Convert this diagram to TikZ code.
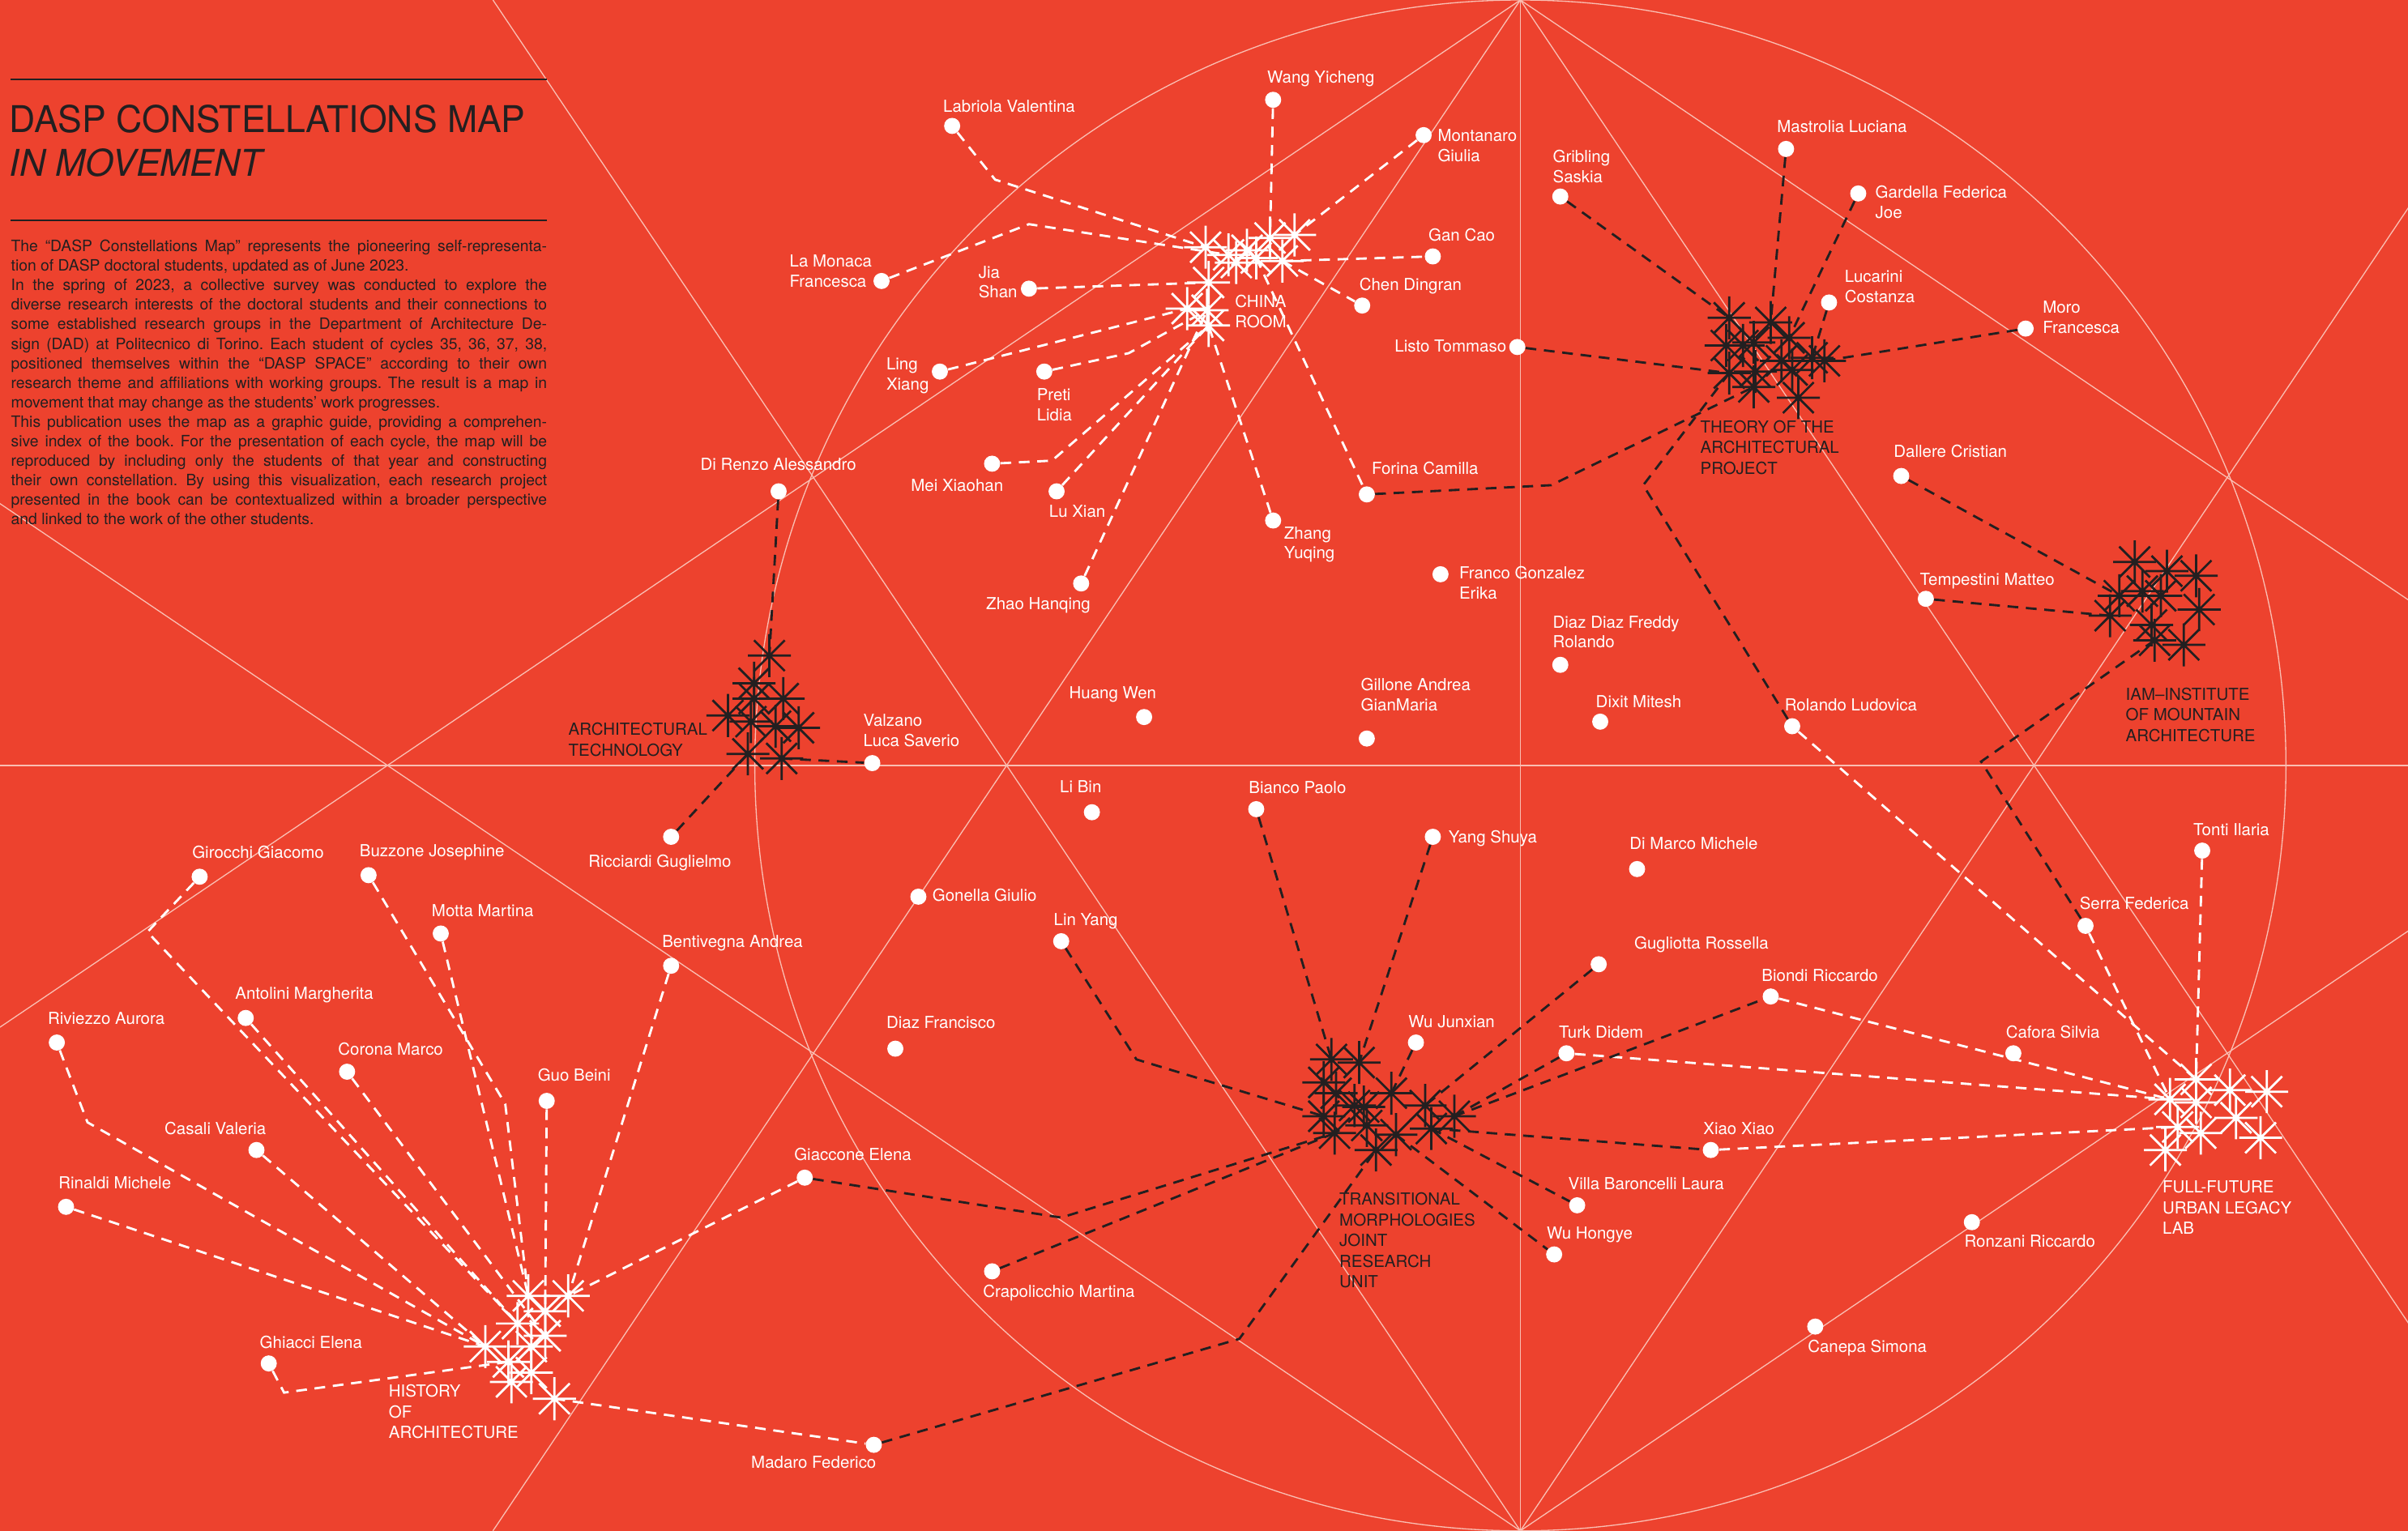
\documentclass[tikz,border=0pt]{standalone}
\usepackage{fontspec}
\setmainfont{TeX Gyre Heros}
\newfontfamily\titlefont[FakeStretch=0.98]{TeX Gyre Heros}
\definecolor{bg}{RGB}{237,66,46}
\definecolor{ink}{RGB}{35,31,32}
\definecolor{geo}{RGB}{250,190,178}
\newcommand\lns[1]{\vtop{\baselineskip=13pt\lineskiplimit=-20pt\lineskip=0pt #1}}
\newcommand\clns[1]{\vtop{\baselineskip=13.4pt\lineskiplimit=-20pt\lineskip=0pt #1}}
\tikzset{
 wstar/.pic={\draw[white,line width=1.45pt] (-14,0)--(14,0) (0,-14)--(0,14) (-10,-10)--(10,10) (-10,10)--(10,-10);},
 kstar/.pic={\draw[ink,line width=1.45pt] (-14,0)--(14,0) (0,-14)--(0,14) (-10,-10)--(10,10) (-10,10)--(10,-10);},
 pdot/.style={circle,fill=white,inner sep=0pt,minimum size=10.5pt},
 wdash/.style={white,line width=1.5pt,dash pattern=on 7pt off 5pt},
 kdash/.style={ink,line width=1.5pt,dash pattern=on 7pt off 5pt},
 geoline/.style={geo,line width=0.7pt},
 lbl/.style={anchor=base west,inner sep=0pt,text=white,font=\fontsize{10.8}{13}\selectfont},
 klbl/.style={lbl,text=ink},
}
\begin{document}
\frenchspacing
\begin{tikzpicture}[x=1pt,y=-1pt]
\useasboundingbox (0,0) rectangle (1568,997);
\fill[bg] (0,0) rectangle (1568,997);
% geometry
\begin{scope}
\clip (0,0) rectangle (1568,997);
\draw[geoline] (990,498.5) circle[radius=498.5pt];
\draw[geoline] (0,498.5) -- (1568,498.5);
\draw[geoline] (990,0) -- (990,997);
\draw[geoline] (990,0) -- (321,997);
\draw[geoline] (990,0) -- (1659,997);
\draw[geoline] (990,0) -- (0,669);
\draw[geoline] (990,0) -- (1980,669);
\draw[geoline] (990,997) -- (321,0);
\draw[geoline] (990,997) -- (1659,0);
\draw[geoline] (990,997) -- (0,328);
\draw[geoline] (990,997) -- (1980,328);
\end{scope}
% title block
\draw[ink,line width=1pt] (7,51.5) -- (356,51.5);
\draw[ink,line width=1pt] (7,143.6) -- (356,143.6);
\node[anchor=base west,inner sep=0pt,text=ink,font=\titlefont\fontsize{24}{28}\selectfont] (title1) at (6,86) {DASP CONSTELLATIONS MAP};
\node[anchor=base west,inner sep=0pt,text=ink,font=\titlefont\itshape\fontsize{24}{28}\selectfont] (title2) at (6,114.5) {IN MOVEMENT};
\node[anchor=base west,inner sep=0pt,text=ink,font=\fontsize{10.2}{12.68}\selectfont] (para) at (7,164) {\vtop{\hsize=349pt\baselineskip=12.68pt
\hbox to\hsize{The “DASP Constellations Map” represents the pioneering self-representa-}
\hbox to\hsize{tion of DASP doctoral students, updated as of June 2023.\hfil}
\hbox to\hsize{In the spring of 2023, a collective survey was conducted to explore the}
\hbox to\hsize{diverse research interests of the doctoral students and their connections to}
\hbox to\hsize{some established research groups in the Department of Architecture De-}
\hbox to\hsize{sign (DAD) at Politecnico di Torino. Each student of cycles 35, 36, 37, 38,}
\hbox to\hsize{positioned themselves within the “DASP SPACE” according to their own}
\hbox to\hsize{research theme and affiliations with working groups. The result is a map in}
\hbox to\hsize{movement that may change as the students’ work progresses.\hfil}
\hbox to\hsize{This publication uses the map as a graphic guide, providing a comprehen-}
\hbox to\hsize{sive index of the book. For the presentation of each cycle, the map will be}
\hbox to\hsize{reproduced by including only the students of that year and constructing}
\hbox to\hsize{their own constellation. By using this visualization, each research project}
\hbox to\hsize{presented in the book can be contextualized within a broader perspective}
\hbox to\hsize{and linked to the work of the other students.\hfil}}};
% star coordinates
\foreach \n/\x/\y in {ch1/843/153,ch2/827/155,ch3/812/163,ch4/818/168,ch5/805/171,ch6/800/166,ch7/785/161,ch8/835/170,ch9/787/184,ch10/773/201,ch11/786/202,ch12/787/212,
 th1/1126/207,th2/1153/210,th3/1165/220,th4/1142/223,th5/1135/225,th6/1124/225,th7/1160/235,th8/1167/241,th9/1180/233,th10/1188/235,th11/1126/243,th12/1143/242,th13/1142/252,th14/1171/259,
 ia1/1390/366,ia2/1411/372,ia3/1430/375,ia4/1380/388,ia5/1395/385,ia6/1407/388,ia7/1432/397,ia8/1374/401,ia9/1401/407,ia10/1403/417,ia11/1422/420,
 ff1/1430/703,ff2/1413/716,ff3/1430/718,ff4/1452/710,ff5/1476/711,ff6/1418/734,ff7/1433/738,ff8/1456/728,ff9/1472/741,ff10/1410/749,
 tr1/867/690,tr2/885/692,tr3/862/705,tr4/870/712,tr5/906/712,tr6/882/720,tr7/888/721,tr8/928/720,tr9/862/727,tr10/869/738,tr11/890/733,tr12/909/739,tr13/932/735,tr14/947/727,tr15/896/749,
 at1/501/427,at2/491/445,at3/491/455,at4/510/455,at5/474/466,at6/489/470,at7/505/473,at8/520/474,at9/487/491,at10/509/494,
 hi1/344/844,hi2/370/844,hi3/355/854,hi4/337/862,hi5/355/870,hi6/316/877,hi7/346/877,hi8/331/887,hi9/346/894,hi10/333/900,hi11/361/911}
 {\coordinate (\n) at (\x,\y);}
% dots
\foreach \n/\x/\y in {wang/829/65,labriola/620/82,montanaro/927/88,lamonaca/574/183,gancao/933/167,jiashan/670/188,chen/887/199,ling/612/242,preti/680/242,mei/646/302,luxian/688/320,zhang/829/339,zhao/704/380,forina/890/322,franco/938/374,
 mastrolia/1163/97,gribling/1016/128,gardella/1210/126,lucarini/1191/197,moro/1319/214,listo/988/226,dallere/1238/310,tempestini/1254/390,diazdiaz/1016/433,dixit/1042/470,gillone/890/481,rolando/1167/473,huang/745/467,
 direnzo/507/320,valzano/568/497,ricciardi/437/545,libin/711/529,bianco/818/527,yang/933/545,dimarco/1066/566,tonti/1434/554,gonella/598/584,linyang/691/613,serra/1358/603,gugliotta/1041/628,biondi/1153/649,cafora/1311/686,
 wujunxian/922/679,turk/1020/686,diazf/583/683,xiao/1114/749,villa/1027/785,wuhongye/1012/817,ronzani/1284/796,crapo/646/828,canepa/1182/864,madaro/569/941,giaccone/524/767,
 girocchi/130/571,buzzone/240/570,motta/287/608,bentivegna/437/629,antolini/160/663,riviezzo/37/679,corona/226/698,guo/356/717,casali/167/749,rinaldi/43/786,ghiacci/175/888}
 {\node[pdot] (\n) at (\x,\y) {};}
% China Room connectors
\draw[wdash] (wang) -- (ch2);
\draw[wdash] (labriola) -- (648,117) -- (ch7);
\draw[wdash] (montanaro) -- (ch1);
\draw[wdash] (lamonaca) -- (670,146) -- (ch6);
\draw[wdash] (ch8) -- (gancao);
\draw[wdash] (jiashan) -- (ch9);
\draw[wdash] (ch8) -- (chen);
\draw[wdash] (ling) -- (ch10);
\draw[wdash] (preti) -- (735,230) -- (ch11);
\draw[wdash] (mei) -- (685,300) -- (ch12);
\draw[wdash] (luxian) -- (ch12);
\draw[wdash] (zhang) -- (ch12);
\draw[wdash] (zhao) -- (ch11);
\draw[wdash] (ch4) -- (forina);
% Theory connectors
\draw[kdash] (mastrolia) -- (th2);
\draw[kdash] (gribling) -- (th1);
\draw[kdash] (gardella) -- (th3);
\draw[kdash] (lucarini) -- (th9);
\draw[kdash] (moro) -- (th10);
\draw[kdash] (listo) -- (th11);
\draw[kdash] (forina) -- (1010,316) -- (th13);
\draw[kdash] (rolando) -- (1070,316) -- (th11);
% IAM connectors
\draw[kdash] (dallere) -- (ia4);
\draw[kdash] (tempestini) -- (ia8);
\draw[kdash] (ia10) -- (1290,496) -- (serra);
% Full-Future connectors
\draw[wdash] (tonti) -- (ff1);
\draw[wdash] (serra) -- (ff2);
\draw[wdash] (rolando) -- (ff1);
\draw[wdash] (biondi) -- (ff2);
\draw[wdash] (turk) -- (ff2);
\draw[wdash] (xiao) -- (ff6);
% Transitional connectors
\draw[kdash] (bianco) -- (tr1);
\draw[kdash] (yang) -- (tr2);
\draw[kdash] (wujunxian) -- (tr5);
\draw[kdash] (gugliotta) -- (tr8);
\draw[kdash] (tr14) -- (turk);
\draw[kdash] (tr14) -- (biondi);
\draw[kdash] (tr13) -- (xiao);
\draw[kdash] (tr13) -- (villa);
\draw[kdash] (tr12) -- (wuhongye);
\draw[kdash] (linyang) -- (740,690) -- (tr9);
\draw[kdash] (giaccone) -- (691,793) -- (tr10);
\draw[kdash] (crapo) -- (tr10);
\draw[kdash] (madaro) -- (807,872) -- (tr15);
% Architectural technology connectors
\draw[kdash] (direnzo) -- (at1);
\draw[kdash] (at10) -- (valzano);
\draw[kdash] (ricciardi) -- (at9);
% History connectors
\draw[wdash] (girocchi) -- (96,607) -- (hi4);
\draw[wdash] (buzzone) -- (329,719) -- (hi1);
\draw[wdash] (motta) -- (hi1);
\draw[wdash] (antolini) -- (hi4);
\draw[wdash] (riviezzo) -- (57,731) -- (hi6);
\draw[wdash] (corona) -- (hi5);
\draw[wdash] (guo) -- (hi3);
\draw[wdash] (bentivegna) -- (hi2);
\draw[wdash] (casali) -- (hi6);
\draw[wdash] (rinaldi) -- (hi6);
\draw[wdash] (ghiacci) -- (185,907) -- (hi8);
\draw[wdash] (giaccone) -- (hi2);
\draw[wdash] (hi11) -- (madaro);
% stars
\foreach \n in {ch1,ch2,ch3,ch4,ch5,ch6,ch7,ch8,ch9,ch10,ch11,ch12,ff1,ff2,ff3,ff4,ff5,ff6,ff7,ff8,ff9,ff10,hi1,hi2,hi3,hi4,hi5,hi6,hi7,hi8,hi9,hi10,hi11}
 {\pic at (\n) {wstar};}
\foreach \n in {th1,th2,th3,th4,th5,th6,th7,th8,th9,th10,th11,th12,th13,th14,ia1,ia2,ia3,ia4,ia5,ia6,ia7,ia8,ia9,ia10,ia11,tr1,tr2,tr3,tr4,tr5,tr6,tr7,tr8,tr9,tr10,tr11,tr12,tr13,tr14,tr15,at1,at2,at3,at4,at5,at6,at7,at8,at9,at10}
 {\pic at (\n) {kstar};}
% cluster labels
\node[lbl] (g-china) at (804,200) {\clns{\hbox{CHINA}\hbox{ROOM}}};
\node[klbl] (g-theory) at (1107,282) {\clns{\hbox{THEORY OF THE}\hbox{ARCHITECTURAL}\hbox{PROJECT}}};
\node[klbl] (g-iam) at (1384,456) {\clns{\hbox{IAM–INSTITUTE}\hbox{OF MOUNTAIN}\hbox{ARCHITECTURE}}};
\node[lbl] (g-full) at (1408,777) {\clns{\hbox{FULL-FUTURE}\hbox{URBAN LEGACY}\hbox{LAB}}};
\node[klbl] (g-trans) at (872,785) {\clns{\hbox{TRANSITIONAL}\hbox{MORPHOLOGIES}\hbox{JOINT}\hbox{RESEARCH}\hbox{UNIT}}};
\node[klbl] (g-tech) at (370,479) {\clns{\hbox{ARCHITECTURAL}\hbox{TECHNOLOGY}}};
\node[lbl] (g-hist) at (253,910) {\clns{\hbox{HISTORY}\hbox{OF}\hbox{ARCHITECTURE}}};
% name labels
\node[lbl] (t-wang) at (825,54) {Wang Yicheng};
\node[lbl] (t-labriola) at (614,73) {Labriola Valentina};
\node[lbl] (t-montanaro) at (936,92) {\lns{\hbox{Montanaro}\hbox{Giulia}}};
\node[lbl] (t-lamonaca) at (514,174) {\lns{\hbox{La Monaca}\hbox{Francesca}}};
\node[lbl] (t-gancao) at (930,157) {Gan Cao};
\node[lbl] (t-jiashan) at (637,181) {\lns{\hbox{Jia}\hbox{Shan}}};
\node[lbl] (t-chen) at (885,189) {Chen Dingran};
\node[lbl] (t-ling) at (577,241) {\lns{\hbox{Ling}\hbox{Xiang}}};
\node[lbl] (t-preti) at (675,261) {\lns{\hbox{Preti}\hbox{Lidia}}};
\node[lbl] (t-mei) at (593,320) {Mei Xiaohan};
\node[lbl] (t-luxian) at (683,337) {Lu Xian};
\node[lbl] (t-zhang) at (836,351) {\lns{\hbox{Zhang}\hbox{Yuqing}}};
\node[lbl] (t-zhao) at (642,397) {Zhao Hanqing};
\node[lbl] (t-forina) at (893,309) {Forina Camilla};
\node[lbl] (t-franco) at (950,377) {\lns{\hbox{Franco Gonzalez}\hbox{Erika}}};
\node[lbl] (t-mastrolia) at (1157,86) {Mastrolia Luciana};
\node[lbl] (t-gribling) at (1011,106) {\lns{\hbox{Gribling}\hbox{Saskia}}};
\node[lbl] (t-gardella) at (1221,129) {\lns{\hbox{Gardella Federica}\hbox{Joe}}};
\node[lbl] (t-lucarini) at (1201,184) {\lns{\hbox{Lucarini}\hbox{Costanza}}};
\node[lbl] (t-moro) at (1330,204) {\lns{\hbox{Moro}\hbox{Francesca}}};
\node[lbl] (t-listo) at (908,229) {Listo Tommaso};
\node[lbl] (t-dallere) at (1233,298) {Dallere Cristian};
\node[lbl] (t-tempestini) at (1250,381) {Tempestini Matteo};
\node[lbl] (t-diazdiaz) at (1011,409) {\lns{\hbox{Diaz Diaz Freddy}\hbox{Rolando}}};
\node[lbl] (t-dixit) at (1039,461) {Dixit Mitesh};
\node[lbl] (t-gillone) at (886,450) {\lns{\hbox{Gillone Andrea}\hbox{GianMaria}}};
\node[lbl] (t-rolando) at (1162,463) {Rolando Ludovica};
\node[lbl] (t-huang) at (696,455) {Huang Wen};
\node[lbl] (t-direnzo) at (456,306) {Di Renzo Alessandro};
\node[lbl] (t-valzano) at (562,473) {\lns{\hbox{Valzano}\hbox{Luca Saverio}}};
\node[lbl] (t-ricciardi) at (383,565) {Ricciardi Guglielmo};
\node[lbl] (t-libin) at (690,516) {Li Bin};
\node[lbl] (t-bianco) at (813,517) {Bianco Paolo};
\node[lbl] (t-yang) at (943,549) {Yang Shuya};
\node[lbl] (t-dimarco) at (1061,553) {Di Marco Michele};
\node[lbl] (t-tonti) at (1428,544) {Tonti Ilaria};
\node[lbl] (t-gonella) at (607,587) {Gonella Giulio};
\node[lbl] (t-linyang) at (686,603) {Lin Yang};
\node[lbl] (t-serra) at (1354,592) {Serra Federica};
\node[lbl] (t-gugliotta) at (1064,618) {Gugliotta Rossella};
\node[lbl] (t-biondi) at (1147,639) {Biondi Riccardo};
\node[lbl] (t-cafora) at (1306,676) {Cafora Silvia};
\node[lbl] (t-wujunxian) at (917,669) {Wu Junxian};
\node[lbl] (t-turk) at (1015,676) {Turk Didem};
\node[lbl] (t-diazf) at (577,670) {Diaz Francisco};
\node[lbl] (t-xiao) at (1109,739) {Xiao Xiao};
\node[lbl] (t-villa) at (1021,775) {Villa Baroncelli Laura};
\node[lbl] (t-wuhongye) at (1007,807) {Wu Hongye};
\node[lbl] (t-ronzani) at (1279,812) {Ronzani Riccardo};
\node[lbl] (t-crapo) at (640,845) {Crapolicchio Martina};
\node[lbl] (t-canepa) at (1177,881) {Canepa Simona};
\node[lbl] (t-madaro) at (489,956) {Madaro Federico};
\node[lbl] (t-giaccone) at (517,756) {Giaccone Elena};
\node[lbl] (t-girocchi) at (125,559) {Girocchi Giacomo};
\node[lbl] (t-buzzone) at (234,558) {Buzzone Josephine};
\node[lbl] (t-motta) at (281,597) {Motta Martina};
\node[lbl] (t-bentivegna) at (431,617) {Bentivegna Andrea};
\node[lbl] (t-antolini) at (153,651) {Antolini Margherita};
\node[lbl] (t-riviezzo) at (31,667) {Riviezzo Aurora};
\node[lbl] (t-corona) at (220,687) {Corona Marco};
\node[lbl] (t-guo) at (350,704) {Guo Beini};
\node[lbl] (t-casali) at (107,739) {Casali Valeria};
\node[lbl] (t-rinaldi) at (38,774) {Rinaldi Michele};
\node[lbl] (t-ghiacci) at (169,878) {Ghiacci Elena};
\end{tikzpicture}
\end{document}
